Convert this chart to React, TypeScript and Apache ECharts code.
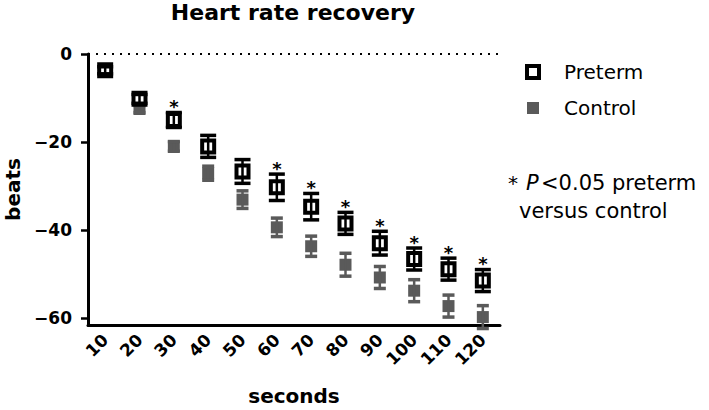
import React, { useEffect, useRef } from 'react';
import * as echarts from 'echarts';

const categories = ['10', '20', '30', '40', '50', '60', '70', '80', '90', '100', '110', '120'];
const pretermMean = [-3.7, -10.2, -15.0, -21.0, -26.7, -30.3, -34.7, -38.5, -43.0, -46.6, -48.9, -51.5];
const pretermErr = [0.8, 1.0, 1.7, 2.5, 2.7, 3.0, 3.0, 2.5, 2.7, 2.5, 2.5, 2.5];
const controlMean = [-4.0, -12.5, -21.0, -27.1, -33.1, -39.4, -43.7, -47.9, -50.8, -53.8, -57.3, -59.8];
const controlErr = [0.6, 0.8, 1.1, 1.6, 2.0, 2.1, 2.3, 2.6, 2.5, 2.5, 2.5, 2.6];
const significant = ['30', '60', '70', '80', '90', '100', '110', '120'];
const yTicks = [0, -20, -40, -60];

const FONT = 'DejaVu Sans';
const BLACK = '#000000';
const GRAY = '#5a5a5a';

function errorBarSeries(name: string, mean: number[], err: number[], color: string, capW: number, z: number, withStars: boolean) {
  return {
    type: 'custom',
    name: name + ' SEM',
    z,
    silent: true,
    encode: { x: 0, y: 1 },
    data: mean.map((m, i) => [i, m, err[i], withStars && significant.includes(categories[i]) ? 1 : 0]),
    renderItem: (params: any, api: any) => {
      const i = api.value(0);
      const m = api.value(1);
      const e = api.value(2);
      const top = api.coord([i, m + e]);
      const bot = api.coord([i, m - e]);
      const x = top[0];
      const lineStyle = { stroke: color, lineWidth: 2.5 };
      const capStyle = { stroke: color, lineWidth: 3.5 };
      const children: any[] = [
        { type: 'line', shape: { x1: x, y1: top[1], x2: x, y2: bot[1] }, style: lineStyle },
        { type: 'line', shape: { x1: x - capW / 2, y1: top[1], x2: x + capW / 2, y2: top[1] }, style: capStyle },
        { type: 'line', shape: { x1: x - capW / 2, y1: bot[1], x2: x + capW / 2, y2: bot[1] }, style: capStyle },
      ];
      if (api.value(3)) {
        children.push({
          type: 'text',
          x,
          y: top[1] - 6,
          style: { text: '*', fill: BLACK, font: `bold 18px "${FONT}"`, align: 'center', verticalAlign: 'middle' },
        });
      }
      return { type: 'group', children };
    },
  };
}

export default function App() {
  const ref = useRef<HTMLDivElement>(null);
  useEffect(() => {
    if (!ref.current) return;
    const chart = echarts.init(ref.current, undefined, { renderer: 'svg' });
    const option: any = {
      animation: false,
      backgroundColor: '#ffffff',
      textStyle: { fontFamily: FONT },
      grid: { left: 88, right: 209, top: 54, bottom: 85, containLabel: false, outerBoundsMode: 'none' },
      legend: {
        orient: 'vertical',
        left: 525,
        top: 62,
        padding: 0,
        itemWidth: 12,
        itemHeight: 12,
        itemGap: 16,
        textStyle: { fontFamily: FONT, fontSize: 20, color: BLACK, padding: [0, 0, 0, 20] },
        data: [
          { name: 'Preterm', icon: 'rect', itemStyle: { color: '#ffffff', borderColor: BLACK, borderWidth: 4 } },
          { name: 'Control', icon: 'rect', itemStyle: { color: GRAY, borderWidth: 0 } },
        ],
      },
      xAxis: {
        type: 'category',
        data: categories,
        boundaryGap: true,
        name: 'seconds',
        nameLocation: 'middle',
        nameGap: 61,
        nameTextStyle: { fontFamily: FONT, fontSize: 20, fontWeight: 'bold', color: BLACK },
        axisLine: { onZero: false, lineStyle: { color: BLACK, width: 3 } },
        axisTick: { alignWithLabel: true, length: 7, lineStyle: { color: BLACK, width: 2.5 } },
        axisLabel: { rotate: 45, margin: 12, fontFamily: FONT, fontSize: 17, fontWeight: 'bold', color: BLACK },
        splitLine: { show: false },
      },
      yAxis: {
        type: 'value',
        min: -61.6,
        max: 0,
        name: 'beats',
        nameLocation: 'middle',
        nameGap: 65,
        nameTextStyle: { fontFamily: FONT, fontSize: 20, fontWeight: 'bold', color: BLACK },
        axisLine: { show: true, lineStyle: { color: BLACK, width: 3 } },
        axisTick: { show: true, length: 7, customValues: yTicks, lineStyle: { color: BLACK, width: 2.5 } },
        axisLabel: {
          margin: 16,
          customValues: yTicks,
          fontFamily: FONT,
          fontSize: 17,
          fontWeight: 'bold',
          color: BLACK,
          formatter: (v: number) => (v === 0 ? '0' : '\u2212' + Math.abs(v)),
        },
        splitLine: { show: false },
      },
      graphic: [
        {
          type: 'text',
          x: 293,
          y: 12,
          style: { text: 'Heart rate recovery', font: `bold 22px "${FONT}"`, fill: BLACK, align: 'center', verticalAlign: 'middle' },
        },
        {
          type: 'text',
          x: 508,
          y: 183,
          style: { text: '*', font: `20px "${FONT}"`, fill: BLACK, align: 'left', verticalAlign: 'middle' },
        },
        {
          type: 'text',
          x: 526,
          y: 183,
          style: { text: 'P', font: `italic 21px "${FONT}"`, fill: BLACK, align: 'left', verticalAlign: 'middle' },
        },
        {
          type: 'text',
          x: 541,
          y: 183,
          style: { text: '<0.05 preterm', font: `21px "${FONT}"`, fill: BLACK, align: 'left', verticalAlign: 'middle' },
        },
        {
          type: 'text',
          x: 519,
          y: 211,
          style: { text: 'versus control', font: `21px "${FONT}"`, fill: BLACK, align: 'left', verticalAlign: 'middle' },
        },
      ],
      series: [
        {
          type: 'scatter',
          name: 'Control',
          z: 2,
          symbol: 'rect',
          symbolSize: 12,
          itemStyle: { color: GRAY, opacity: 1 },
          data: controlMean,
        },
        errorBarSeries('Control', controlMean, controlErr, GRAY, 12, 3, false),
        {
          type: 'scatter',
          name: 'Preterm',
          z: 4,
          symbol: 'rect',
          symbolSize: 12,
          itemStyle: { color: '#ffffff', borderColor: BLACK, borderWidth: 4, opacity: 1 },
          data: pretermMean,
          markLine: {
            silent: true,
            symbol: ['none', 'none'],
            label: { show: false },
            lineStyle: { color: BLACK, type: [2, 6], width: 2 },
            data: [{ yAxis: 0 }],
          },
        },
        errorBarSeries('Preterm', pretermMean, pretermErr, BLACK, 16, 5, true),
      ],
    };
    chart.setOption(option);
    return () => chart.dispose();
  }, []);
  return <div ref={ref} style={{ position: 'absolute', left: 0, top: 0, width: 709, height: 410 }} />;
}
